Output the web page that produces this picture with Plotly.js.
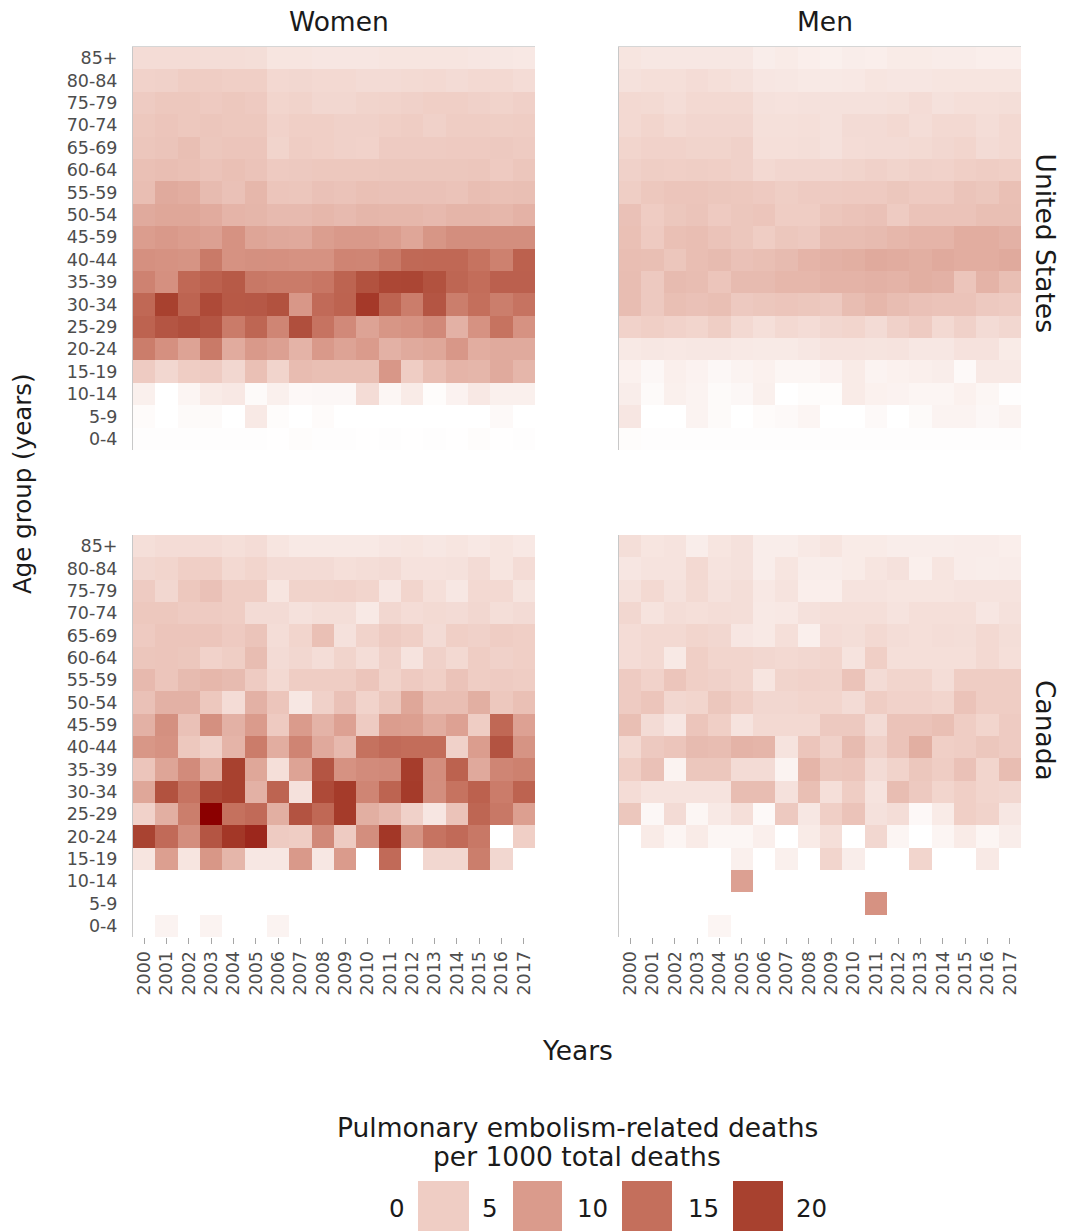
<!DOCTYPE html>
<html>
<head>
<meta charset="utf-8">
<script src="https://cdn.plot.ly/plotly-3.0.1.min.js"></script>
<style>html,body{margin:0;padding:0;background:#fff}#chart{width:1065px;height:1231px}</style>
</head>
<body>
<div id="chart"></div>
<script>
const years = ['2000','2001','2002','2003','2004','2005','2006','2007','2008','2009','2010','2011','2012','2013','2014','2015','2016','2017'];
const ageGroups = ['85+','80-84','75-79','70-74','65-69','60-64','55-59','50-54','45-59','40-44','35-39','30-34','25-29','20-24','15-19','10-14','5-9','0-4'];
const sexes = ['Women','Men'];
const countries = ['United States','Canada'];
const legendBreaks = [0,5,10,15,20];
const legendTitle = 'Pulmonary embolism-related deaths<br>per 1000 total deaths';

// rows: top (85+) to bottom (0-4); columns 2000..2017
const usWomen = [
[3.5,3.5,3.5,3.4,3.4,3.3,2.6,2.6,2.5,2.5,2.5,2.6,2.6,2.6,2.6,2.5,2.4,2.3],
[4.5,4.6,5.0,5.0,4.8,4.8,3.9,4.0,3.8,3.8,3.6,3.6,3.7,3.8,3.6,3.8,3.8,3.5],
[5.2,5.5,5.5,5.3,5.5,5.3,4.2,4.4,4.0,4.0,4.3,4.4,4.6,4.8,4.8,4.6,4.4,4.7],
[5.5,5.8,5.5,5.7,5.5,5.5,4.5,4.8,4.8,4.6,4.6,4.8,5.0,4.6,5.0,5.0,4.9,5.0],
[5.7,5.9,6.4,5.6,5.8,5.8,4.3,5.0,4.8,4.6,4.5,5.2,5.2,5.2,5.3,5.3,5.4,5.2],
[6.3,6.5,6.3,6.0,6.3,6.0,5.3,5.4,5.5,5.5,5.5,5.6,5.6,5.6,5.6,5.7,5.3,5.7],
[6.5,8.5,8.2,6.8,6.2,7.2,5.8,5.7,6.2,6.0,6.3,6.2,6.2,6.2,6.0,6.5,6.3,6.4],
[8.5,8.8,8.8,8.4,7.5,7.3,6.9,6.9,7.2,6.9,7.3,7.2,7.2,7.0,7.4,7.4,7.2,7.7],
[9.8,10.2,9.8,9.5,11.0,9.0,8.7,8.6,9.7,10.2,10.2,9.8,8.9,10.6,11.5,11.5,11.5,11.5],
[11.2,11.0,10.8,13.8,11.0,11.3,11.2,11.0,11.0,12.6,12.5,13.8,15.7,15.8,15.8,14.6,13.0,16.5],
[12.8,11.2,15.8,16.5,17.3,14.0,13.6,13.6,14.2,16.2,18.2,19.3,19.5,18.2,16.0,15.2,16.6,16.6],
[15.8,20.0,16.2,19.0,17.4,17.5,18.2,10.4,15.5,16.3,20.6,16.2,13.4,17.8,13.3,15.0,13.3,14.5],
[16.3,17.8,18.5,17.8,13.6,16.0,12.5,18.5,14.5,12.0,9.2,10.6,11.0,12.0,7.8,11.0,14.6,11.0],
[13.4,11.2,9.2,13.8,8.4,10.2,9.5,7.6,10.2,9.2,10.0,7.8,8.5,8.8,10.4,8.2,8.5,8.5],
[5.2,4.0,5.0,5.2,4.0,6.3,4.3,6.7,6.4,6.4,6.4,10.4,5.0,6.5,7.5,7.3,8.5,7.3],
[1.5,0,1.0,2.0,2.3,0.5,1.5,0.7,0.8,0.8,3.5,0.9,2.0,0.3,1.3,2.3,1.5,1.5],
[0.4,0,0.5,0.5,0,2.2,0.3,0,0.4,0,0,0,0,0,0,0,0.6,0],
[0.2,0.2,0.2,0.2,0.2,0.2,0.1,0.3,0.2,0.2,0.1,0.2,0.1,0.2,0.1,0.3,0.1,0.2]
];
const usMen = [
[2.6,2.4,2.4,2.4,2.4,2.4,1.8,2.0,1.7,1.5,1.8,1.7,2.0,2.0,1.9,1.9,1.7,1.7],
[3.0,3.2,3.2,3.5,3.2,3.0,2.5,2.4,2.2,2.2,2.3,2.6,2.5,2.5,2.6,2.6,2.6,2.6],
[3.8,3.7,3.4,3.8,3.8,3.8,3.0,2.9,3.0,3.0,3.0,3.0,3.1,3.5,3.0,3.2,3.2,3.3],
[3.8,4.2,3.8,4.1,4.1,4.1,3.1,3.1,3.2,3.0,3.6,3.6,3.8,3.4,3.8,3.8,3.4,3.8],
[4.2,4.5,4.5,4.3,4.3,4.6,3.2,3.2,3.3,3.0,3.5,3.6,3.6,3.7,4.0,4.2,3.6,3.8],
[4.6,4.9,4.8,4.9,4.8,4.6,3.8,4.1,4.1,4.1,4.3,4.6,4.3,4.6,4.5,4.8,5.0,4.8],
[4.9,5.5,5.8,5.8,5.6,5.5,5.3,4.9,5.2,5.2,5.3,5.3,5.6,5.3,5.3,5.9,5.6,6.3],
[6.2,5.1,5.6,5.9,5.3,5.6,5.8,5.0,5.0,5.7,6.0,6.2,5.2,6.0,6.0,6.0,6.4,6.4],
[6.3,5.3,6.3,6.5,6.0,5.6,5.0,5.6,5.4,6.6,6.6,6.8,7.2,7.5,7.5,8.2,8.2,7.8],
[6.5,6.4,5.7,6.5,6.8,6.2,6.4,6.8,7.5,7.8,8.0,8.5,8.3,8.0,8.5,8.2,8.2,8.5],
[6.6,5.4,6.8,6.6,5.8,6.8,6.8,7.2,7.2,7.6,7.6,7.8,7.6,8.0,7.8,5.8,7.6,6.4],
[6.6,5.4,6.4,6.2,6.4,5.4,5.6,5.8,5.6,5.4,6.6,7.2,6.6,6.2,6.0,6.0,5.4,5.2],
[4.5,4.8,4.5,4.2,4.9,3.8,3.2,3.8,3.5,4.0,4.2,3.6,4.6,5.2,3.8,4.6,3.6,4.0],
[2.2,2.4,2.3,2.4,2.4,2.2,2.1,2.1,2.4,2.8,2.8,2.7,2.8,2.4,2.4,2.9,2.9,2.0],
[1.4,0.8,1.6,1.3,0.8,1.2,1.4,0.9,0.9,1.3,2.0,1.2,1.4,1.6,1.8,0.6,2.2,2.2],
[1.8,0.5,1.5,1.2,0.5,0.8,1.5,0,0.3,0.3,2.0,1.4,1.3,1.0,1.0,1.4,0.9,0.2],
[2.5,0,0,1.2,0.5,0,0.4,0.6,1.0,0,0,0.6,0,0.5,1.2,1.2,0.8,1.2],
[0.3,0.2,0.2,0.2,0.2,0.2,0.2,0.2,0.2,0.2,0.2,0.2,0.2,0.2,0.2,0.2,0.2,0.2]
];
const caWomen = [
[3.2,3.5,3.5,3.5,3.2,3.5,2.6,2.2,2.2,2.2,2.2,2.5,2.6,2.4,2.6,2.3,2.6,2.3],
[4.0,4.2,4.8,4.8,3.8,4.2,3.6,3.6,3.6,3.2,3.4,3.6,2.9,2.9,3.0,3.6,2.6,3.5],
[5.2,4.0,5.5,6.2,5.0,5.0,2.6,4.4,4.4,4.5,4.2,2.5,4.2,3.2,2.4,3.8,3.8,2.7],
[5.5,5.5,5.2,5.2,5.0,3.6,3.6,3.0,3.3,3.3,2.2,4.0,3.5,3.7,3.6,4.0,3.3,3.6],
[5.3,5.8,5.8,5.8,5.3,5.9,3.4,4.2,6.3,3.0,4.4,5.2,4.8,3.6,4.8,4.6,5.0,4.8],
[5.7,5.8,5.6,4.5,4.9,6.6,3.6,4.0,3.4,4.3,3.4,4.6,2.8,4.6,3.8,5.0,4.6,4.8],
[7.0,5.8,6.8,7.2,6.8,5.2,3.8,5.0,5.0,5.0,5.8,4.4,5.3,4.8,6.0,5.0,5.2,5.0],
[6.2,7.8,7.8,5.5,3.5,7.8,5.8,2.4,4.6,6.2,4.4,5.6,8.8,6.5,6.5,8.0,5.5,6.3],
[7.8,11.3,6.2,11.3,7.8,10.0,5.3,10.0,7.6,9.4,5.2,9.8,9.6,8.2,9.4,5.0,15.8,9.4],
[10.5,11.0,5.5,4.6,7.5,13.5,8.2,12.6,8.6,7.0,14.7,15.5,15.2,15.2,4.6,9.8,18.0,10.8],
[5.8,9.0,11.8,8.2,20.0,8.8,3.2,9.2,17.8,11.0,11.8,12.0,20.3,11.6,16.4,8.6,12.5,13.0],
[8.8,18.2,14.5,19.2,20.0,7.8,16.2,3.0,19.0,20.5,12.5,16.2,20.5,11.5,14.6,16.5,13.5,16.3],
[4.5,8.0,13.3,25.0,14.8,15.5,8.0,18.0,15.8,20.5,8.0,7.0,4.6,2.5,6.0,16.0,14.0,9.6],
[19.8,15.5,11.5,17.8,20.8,22.0,5.2,5.0,12.0,5.2,11.5,20.8,10.8,14.5,15.5,14.0,0,4.8],
[2.6,9.6,2.6,10.5,7.3,2.4,2.4,10.2,2.4,10.0,0,15.5,0,4.0,4.0,13.3,4.0,0],
[0,0,0,0,0,0,0,0,0,0,0,0,0,0,0,0,0,0],
[0,0,0,0,0,0,0,0,0,0,0,0,0,0,0,0,0,0],
[0,1.2,0,1.2,0,0,1.2,0,0,0,0,0,0,0,0,0,0,0]
];
const caMen = [
[3.3,2.6,2.8,1.8,2.6,3.0,1.8,1.8,2.2,2.6,2.0,2.0,1.8,1.8,1.8,1.9,1.9,1.7],
[2.5,2.8,2.8,3.8,2.8,3.0,1.8,2.6,1.8,1.8,2.0,2.6,3.0,1.6,2.6,1.9,1.8,1.9],
[3.0,3.8,3.0,3.7,3.0,3.3,2.3,2.8,1.7,1.7,2.8,2.8,2.6,2.6,2.6,2.8,2.8,2.8],
[4.0,2.8,3.4,3.2,3.4,3.3,2.2,2.3,3.0,3.2,3.2,3.2,2.8,3.2,3.2,3.2,2.5,3.0],
[3.5,3.8,3.8,4.2,4.0,2.5,2.2,3.2,1.6,3.5,3.3,3.8,3.4,3.2,3.4,3.3,3.8,3.3],
[3.5,3.8,2.2,4.8,4.2,4.2,4.0,3.8,4.0,4.2,2.8,4.8,3.2,3.2,3.2,3.2,3.8,3.2],
[5.2,4.5,5.8,4.8,4.6,4.2,2.6,4.3,4.5,4.4,6.0,3.6,4.2,4.2,3.4,5.0,5.0,5.0],
[5.2,5.8,4.0,4.2,5.6,4.8,4.0,4.0,4.2,4.2,3.6,5.0,4.5,4.5,4.2,6.0,5.0,5.0],
[6.4,3.6,2.5,5.8,4.8,2.8,3.8,3.8,3.8,5.4,5.4,3.6,6.0,6.0,6.4,5.0,4.2,5.2],
[3.8,5.4,5.8,6.8,6.6,7.6,7.4,2.8,5.8,4.6,6.8,4.6,6.0,8.0,4.8,5.0,5.6,5.2],
[4.8,6.2,1.2,5.6,5.6,3.6,3.6,1.2,7.4,5.6,5.8,3.6,4.4,5.6,5.0,6.2,4.2,6.6],
[3.5,2.8,2.8,2.8,2.8,6.6,6.6,3.0,6.4,3.2,5.0,2.8,6.6,5.4,4.2,4.8,4.2,4.0],
[5.6,0.8,3.6,0.9,2.2,3.2,0.6,5.4,2.4,4.8,6.0,3.0,3.4,0.7,2.0,4.8,4.4,2.4],
[0,2.0,1.0,2.0,0.9,0.9,1.6,0,2.0,3.2,0,4.0,1.0,0,1.0,2.0,1.0,1.8],
[0,0,0,0,0,1.5,0,1.5,0,4.2,1.8,0,0,4.2,0,0,2.2,0],
[0,0,0,0,0,9.5,0,0,0,0,0,0,0,0,0,0,0,0],
[0,0,0,0,0,0,0,0,0,0,0,11.0,0,0,0,0,0,0],
[0,0,0,0,1.0,0,0,0,0,0,0,0,0,0,0,0,0,0]
];

const zMax = 25;
const scaleStops = [[0,'#FFFFFF'],[5,'#EFCDC4'],[10,'#DA9B8C'],[15,'#C46F5C'],[20,'#A8412F'],[25,'#8B0000']];
const colorscale = scaleStops.map(s => [s[0]/zMax, s[1]]);

const FONT = 'DejaVu Sans, Verdana, sans-serif';
const W = 1065, H = 1231;
const px = v => v / W;
const py = v => 1 - v / H;

const colDom = [[px(133), px(535)], [px(619), px(1021)]];
const rowDom = [[py(450), py(47)], [py(937), py(535)]];

const panels = [
  {z: usWomen, r: 0, c: 0},
  {z: usMen,   r: 0, c: 1},
  {z: caWomen, r: 1, c: 0},
  {z: caMen,   r: 1, c: 1}
];

const traces = [];
const layout = {
  width: W, height: H,
  margin: {l: 0, r: 0, t: 0, b: 0},
  paper_bgcolor: '#fff', plot_bgcolor: '#fff',
  font: {family: FONT, color: '#1a1a1a'},
  showlegend: false,
  annotations: [],
  shapes: []
};

const tickFont = {size: 17.5, color: '#4D4D4D', family: FONT};
panels.forEach((p, i) => {
  const n = i === 0 ? '' : String(i + 1);
  traces.push({
    type: 'heatmap', x: years, y: ageGroups, z: p.z,
    xaxis: 'x' + n, yaxis: 'y' + n,
    colorscale: colorscale, zmin: 0, zmax: zMax, showscale: false,
    hovertemplate: '%{x} %{y}: %{z}<extra></extra>'
  });
  const bottom = p.r === 1;
  layout['xaxis' + n] = {
    domain: colDom[p.c], anchor: 'y' + n, type: 'category',
    showgrid: false, zeroline: false,
    showticklabels: bottom,
    ticks: bottom ? 'outside' : '', ticklen: 6, tickcolor: '#a6a6a6', tickwidth: 1,
    tickangle: -90, tickfont: tickFont,
    ticklabelstandoff: 0,
    side: bottom ? 'bottom' : 'top',
    showline: !bottom, linecolor: '#d6d6d6', linewidth: 1,
    fixedrange: true
  };
  layout['yaxis' + n] = {
    domain: rowDom[p.r], anchor: 'x' + n, type: 'category', autorange: 'reversed',
    showgrid: false, zeroline: false,
    showticklabels: p.c === 0, ticks: '',
    tickfont: tickFont,
    ticklabelstandoff: 11,
    showline: true, linecolor: '#c8c8c8', linewidth: 1,
    fixedrange: true
  };
});

const ann = layout.annotations;
const titleFont = {size: 26.5, color: '#1a1a1a', family: FONT};
sexes.forEach((s, c) => ann.push({text: s, xref: 'paper', yref: 'paper',
  x: (colDom[c][0] + colDom[c][1]) / 2 + 5 / W, y: py(21), xanchor: 'center', yanchor: 'middle',
  showarrow: false, font: titleFont}));
countries.forEach((s, r) => ann.push({text: s, xref: 'paper', yref: 'paper',
  x: px(1045), y: (rowDom[r][0] + rowDom[r][1]) / 2 + 6 / H, xanchor: 'center', yanchor: 'middle',
  textangle: 90, showarrow: false, font: titleFont}));
ann.push({text: 'Age group (years)', xref: 'paper', yref: 'paper', x: px(22), y: py(484),
  xanchor: 'center', yanchor: 'middle', textangle: -90, showarrow: false,
  font: {size: 24.5, color: '#1a1a1a', family: FONT}});
ann.push({text: 'Years', xref: 'paper', yref: 'paper', x: px(577), y: py(1050),
  xanchor: 'center', yanchor: 'middle', showarrow: false, font: titleFont});
legendTitle.split('<br>').forEach((line, k) => ann.push({text: line, xref: 'paper', yref: 'paper',
  x: px(577), y: py(1127 + 29 * k), xanchor: 'center', yanchor: 'middle', showarrow: false, font: titleFont}));

// binned legend
const labelX = [397, 490, 592, 703, 812];
const boxX = [[418, 469], [513, 562], [622, 672], [733, 783]];
legendBreaks.forEach((b, k) => ann.push({text: String(b), xref: 'paper', yref: 'paper',
  x: px(labelX[k]), y: py(1208), xanchor: 'center', yanchor: 'middle', showarrow: false,
  font: {size: 24.5, color: '#1a1a1a', family: FONT}}));
legendBreaks.slice(1).forEach((b, k) => {
  const col = scaleStops.find(s => s[0] === b)[1];
  layout.shapes.push({type: 'rect', xref: 'paper', yref: 'paper',
    x0: px(boxX[k][0]), x1: px(boxX[k][1]), y0: py(1231), y1: py(1181),
    fillcolor: col, line: {width: 0}});
});

Plotly.newPlot('chart', traces, layout, {displayModeBar: false, staticPlot: true});
</script>
</body>
</html>
